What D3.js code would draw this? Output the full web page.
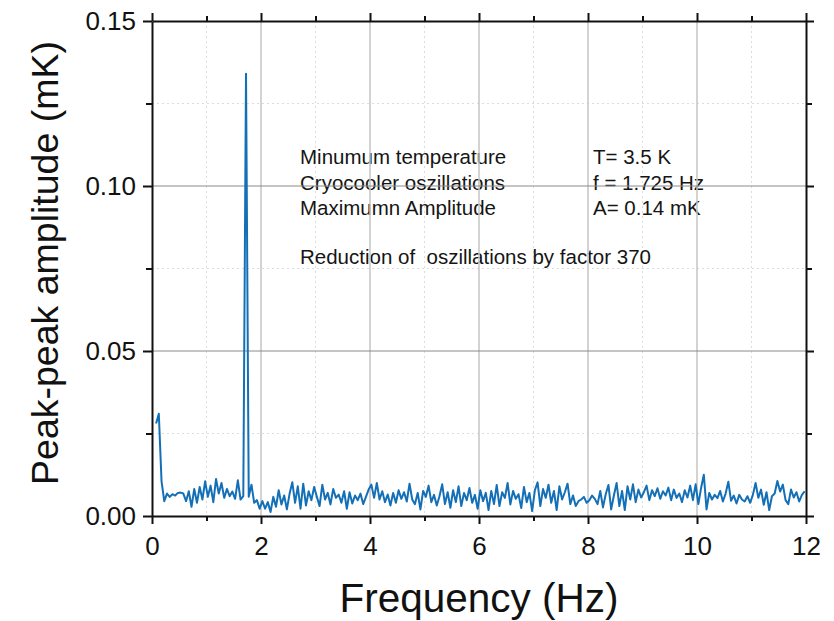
<!DOCTYPE html>
<html><head><meta charset="utf-8">
<script src="https://cdn.jsdelivr.net/npm/d3@7"></script>
<style>
html,body{margin:0;padding:0;background:#fff;}
svg{display:block;font-family:"Liberation Sans",Arial,sans-serif;}
</style></head><body>
<svg id="chart" width="834" height="621"></svg>
<script>
// FFT bins: f = f0 + i*df
const f0 = 0.075, df = 0.05;
const amplitude = [
0.028,0.031,0.0105,0.0045,0.0068,0.0058,0.0066,0.0062,0.0070,0.0071,
0.0068,0.0045,0.0075,0.0028,0.0082,0.0040,0.0088,0.0050,0.0105,0.0058,
0.0092,0.0042,0.0112,0.0068,0.0100,0.0055,0.0082,0.0060,0.0074,0.0052,
0.0108,0.0050,0.0060,0.134,0.0058,0.0095,0.0040,0.0048,0.0022,0.0045,
0.0022,0.0042,0.0012,0.0058,0.0028,0.0078,0.0035,0.0062,0.0020,0.0068,
0.0102,0.0040,0.0090,0.0022,0.0098,0.0032,0.0075,0.0048,0.0088,0.0058,
0.0030,0.0095,0.0050,0.0070,0.0035,0.0082,0.0055,0.0065,0.0040,0.0075,
0.0022,0.0072,0.0038,0.0062,0.0048,0.0068,0.0036,0.0058,0.0080,0.0095,
0.0055,0.0100,0.0050,0.0075,0.0042,0.0065,0.0032,0.0070,0.0040,0.0078,
0.0052,0.0072,0.0044,0.0098,0.0050,0.0036,0.0070,0.0020,0.0076,0.0058,
0.0092,0.0042,0.0064,0.0032,0.0060,0.0096,0.0036,0.0072,0.0025,0.0078,
0.0042,0.0090,0.0030,0.0070,0.0048,0.0085,0.0040,0.0064,0.0022,0.0078,
0.0045,0.0070,0.0018,0.0076,0.0036,0.0094,0.0030,0.0072,0.0055,0.0100,
0.0035,0.0076,0.0052,0.0066,0.0024,0.0088,0.0042,0.0070,0.0015,0.0078,
0.0102,0.0030,0.0082,0.0055,0.0095,0.0040,0.0076,0.0018,0.0090,0.0050,
0.0072,0.0098,0.0036,0.0062,0.0030,0.0045,0.0050,0.0058,0.0040,0.0048,
0.0062,0.0052,0.0036,0.0076,0.0026,0.0066,0.0094,0.0020,0.0062,0.0100,
0.0030,0.0076,0.0018,0.0090,0.0050,0.0096,0.0042,0.0080,0.0056,0.0072,
0.0092,0.0048,0.0078,0.0060,0.0084,0.0052,0.0075,0.0062,0.0086,0.0048,
0.0080,0.0055,0.0068,0.0042,0.0078,0.0056,0.0092,0.0048,0.0096,0.0036,
0.0085,0.0125,0.0020,0.0070,0.0050,0.0064,0.0054,0.0076,0.0044,0.0068,
0.0104,0.0046,0.0062,0.0038,0.0064,0.0050,0.0044,0.0060,0.0040,0.0064,
0.0100,0.0055,0.0080,0.0034,0.0072,0.0018,0.0060,0.0068,0.0106,0.0074,
0.0095,0.0048,0.0036,0.0080,0.0056,0.0072,0.0044,0.0064,0.0075
];
const xMajor = [0,2,4,6,8,10,12];
const xMinor = [1,3,5,7,9,11];
const yMajor = [0.00,0.05,0.10,0.15];
const yMinor = [0.025,0.075,0.125];
const xTitle = "Frequency (Hz)";
const yTitle = "Peak-peak amplitude (mK)";
const notesLeft = ["Minumum temperature","Cryocooler oszillations","Maximumn Amplitude"];
const notesRight = ["T= 3.5 K","f = 1.725 Hz","A= 0.14 mK"];
const noteBottom = "Reduction of  oszillations by factor 370";

(function(){
const data = amplitude.map((v,i)=>({f: f0 + i*df, a: v}));
const L=152, R=806, T=21, B=516;
const svg = d3.select("#chart");
const x = d3.scaleLinear().domain([0,12]).range([L,R]);
const y = d3.scaleLinear().domain([0,0.15]).range([B,T]);

svg.append("g").selectAll("line").data(xMinor).join("line")
 .attr("x1",d=>x(d)).attr("x2",d=>x(d)).attr("y1",T).attr("y2",B)
 .attr("stroke","#dcdcdc").attr("stroke-width",1).attr("stroke-dasharray","2,3");
svg.append("g").selectAll("line").data(yMinor).join("line")
 .attr("y1",d=>y(d)).attr("y2",d=>y(d)).attr("x1",L).attr("x2",R)
 .attr("stroke","#dcdcdc").attr("stroke-width",1).attr("stroke-dasharray","2,3");

const ann = svg.append("g").attr("font-size","20.5px").attr("fill","#151515")
 .style("white-space","pre");
const lineYs = [164,189.5,215];
notesLeft.forEach((t,i)=>ann.append("text").attr("x",300).attr("y",lineYs[i]).text(t));
notesRight.forEach((t,i)=>ann.append("text").attr("x",593).attr("y",lineYs[i]).text(t));
ann.append("text").attr("x",300).attr("y",264).attr("xml:space","preserve").text(noteBottom);

svg.append("g").selectAll("line").data(xMajor.slice(1,-1)).join("line")
 .attr("x1",d=>x(d)).attr("x2",d=>x(d)).attr("y1",T).attr("y2",B)
 .attr("stroke","#c4c4c4").attr("stroke-width",1.5);
svg.append("g").selectAll("line").data(yMajor.slice(1,-1)).join("line")
 .attr("y1",d=>y(d)).attr("y2",d=>y(d)).attr("x1",L).attr("x2",R)
 .attr("stroke","#8a8a8a").attr("stroke-width",1);

svg.append("path").datum(data)
 .attr("fill","none").attr("stroke","#136fb6").attr("stroke-width",2)
 .attr("stroke-linejoin","round")
 .attr("d", d3.line().x(d=>x(d.f)).y(d=>y(d.a)));

function styleAxis(sel){
  sel.select(".domain").attr("stroke","#111").attr("stroke-width",2);
  sel.selectAll(".tick line").attr("stroke","#111").attr("stroke-width",2);
}
function minor(sel){
  sel.select(".domain").remove();
  sel.selectAll("line").attr("stroke","#111").attr("stroke-width",2);
}
const fmtY = d3.format(".2f");
const axB = svg.append("g").attr("transform",`translate(0,${B})`)
 .call(d3.axisBottom(x).tickValues(xMajor).tickSize(8).tickSizeOuter(0).tickFormat(d3.format("d")));
const axT = svg.append("g").attr("transform",`translate(0,${T})`)
 .call(d3.axisTop(x).tickValues(xMajor).tickSize(8).tickSizeOuter(0).tickFormat(""));
const axL = svg.append("g").attr("transform",`translate(${L},0)`)
 .call(d3.axisLeft(y).tickValues(yMajor).tickSize(9).tickSizeOuter(0).tickFormat(fmtY));
const axR = svg.append("g").attr("transform",`translate(${R},0)`)
 .call(d3.axisRight(y).tickValues(yMajor).tickSize(8).tickSizeOuter(0).tickFormat(""));
[axB,axT,axL,axR].forEach(styleAxis);
svg.append("g").attr("transform",`translate(0,${B})`)
 .call(d3.axisBottom(x).tickValues(xMinor).tickSize(5).tickFormat("")).call(minor);
svg.append("g").attr("transform",`translate(0,${T})`)
 .call(d3.axisTop(x).tickValues(xMinor).tickSize(5).tickFormat("")).call(minor);
svg.append("g").attr("transform",`translate(${L},0)`)
 .call(d3.axisLeft(y).tickValues(yMinor).tickSize(6).tickFormat("")).call(minor);
svg.append("g").attr("transform",`translate(${R},0)`)
 .call(d3.axisRight(y).tickValues(yMinor).tickSize(6).tickFormat("")).call(minor);

axB.selectAll(".tick text").attr("font-size","26px").attr("fill","#111")
 .attr("font-family","Liberation Sans, Arial, sans-serif").attr("dy",0).attr("y",39);
axL.selectAll(".tick text").attr("font-size","26px").attr("fill","#111")
 .attr("font-family","Liberation Sans, Arial, sans-serif").attr("x",-16);

svg.append("text").attr("x",479).attr("y",612).attr("text-anchor","middle")
 .attr("font-size","40.5px").attr("fill","#111").text(xTitle);
svg.append("text").attr("transform",`translate(58,263) rotate(-90)`)
 .attr("text-anchor","middle").attr("font-size","37.5px").attr("fill","#111").text(yTitle);
})();
</script>
</body></html>
